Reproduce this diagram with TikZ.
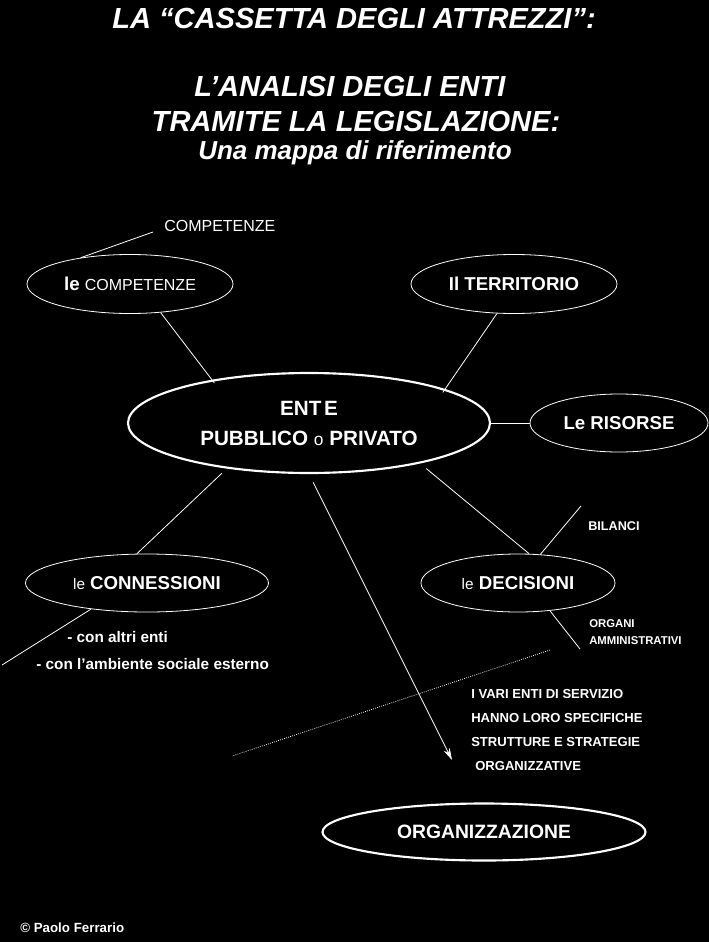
\documentclass[tikz,border=0pt]{standalone}
\usepackage{fontspec}
\setmainfont{Liberation Sans}
\usetikzlibrary{arrows.meta,shapes.geometric}

\begin{document}
\begin{tikzpicture}[
  x=0.75pt, y=-0.75pt,
  bubble/.style={draw=white, ellipse, line width=0.6pt, inner sep=0pt, text=white,
                 font=\fontsize{14}{16}\selectfont\bfseries},
  hub/.style={bubble, line width=1.6pt},
  link/.style={draw=white, line width=0.6pt},
  note/.style={text=white, inner sep=0pt},
  >={Stealth[length=9pt,width=5pt]}
]
  \fill[black] (0,0) rectangle (709,942);
  \useasboundingbox (0,0) rectangle (709,942);

  % title
  \node[note, anchor=base, font=\fontsize{21.8}{24}\selectfont\bfseries\itshape] (t1) at (354,29)
      {LA “CASSETTA DEGLI ATTREZZI”:};
  \node[note, anchor=base, font=\fontsize{21.8}{24}\selectfont\bfseries\itshape] (t2) at (350,97)
      {L’ANALISI DEGLI ENTI};
  \node[note, anchor=base, font=\fontsize{21.8}{24}\selectfont\bfseries\itshape] (t3) at (356,131)
      {TRAMITE LA LEGISLAZIONE:};
  \node[note, anchor=base, font=\fontsize{19.5}{22}\selectfont\bfseries\itshape] (t4) at (355,159)
      {Una mappa di riferimento};

  % map
  \node[hub, minimum width=271.5pt, minimum height=75pt, align=center,
        font=\fontsize{15.5}{22.5}\selectfont\bfseries] (ente) at (309,423)
      {ENT\kern2pt E\\PUBBLICO {\mdseries\fontsize{13}{15}\selectfont o} PRIVATO};
  \node[bubble, minimum width=154.5pt, minimum height=44.25pt] (comp) at (130,284)
      {le {\mdseries\fontsize{12}{14}\selectfont COMPETENZE}};
  \node[bubble, minimum width=154.5pt, minimum height=44.25pt] (terr) at (514,284) {Il TERRITORIO};
  \node[bubble, minimum width=133.5pt, minimum height=43.5pt] (ris) at (619,423) {Le RISORSE};
  \node[bubble, minimum width=182.25pt, minimum height=43.5pt] (conn) at (147,583)
      {{\mdseries\fontsize{11.5}{14}\selectfont le} CONNESSIONI};
  \node[bubble, minimum width=145.5pt, minimum height=43.5pt] (dec) at (518,583)
      {{\mdseries\fontsize{11.5}{14}\selectfont le} DECISIONI};
  \node[hub, minimum width=242.25pt, minimum height=42.75pt,
        font=\fontsize{14.5}{16}\selectfont\bfseries] (org) at (484,832) {ORGANIZZAZIONE};

  \node[note, anchor=base west, font=\fontsize{12}{14}\selectfont] (complbl) at (164,231) {COMPETENZE};
  \node[note, anchor=base west, font=\fontsize{9.5}{11}\selectfont\bfseries] (bil) at (588,530) {BILANCI};
  \node[note, anchor=north west, align=left, font=\fontsize{8.5}{12.75}\selectfont\bfseries] (organi)
      at (589,619) {ORGANI\\AMMINISTRATIVI};
  \node[note, anchor=north west, align=left, font=\fontsize{9.8}{18}\selectfont\bfseries] (servizi)
      at (471,689) {I VARI ENTI DI SERVIZIO\\HANNO LORO SPECIFICHE\\STRUTTURE E STRATEGIE\\\hspace*{3pt}ORGANIZZATIVE};
  \node[note, anchor=base west, font=\fontsize{11.5}{14}\selectfont\bfseries] (altri) at (67,642)
      {- con altri enti};
  \node[note, anchor=base west, font=\fontsize{11.5}{14}\selectfont\bfseries] (ambiente) at (36,669)
      {- con l’ambiente sociale esterno};
  \node[note, anchor=base west, font=\fontsize{10}{12}\selectfont\bfseries] (copy) at (20,932)
      {© Paolo Ferrario};

  \coordinate (compTip) at (153,232);
  \coordinate (bilTip) at (581,506);
  \coordinate (organiTip) at (580,649);
  \coordinate (connTip) at (2,665);
  \coordinate (dotA) at (550,650);
  \coordinate (dotB) at (232,756);
  \coordinate (arrowTip) at (452,760);

  \draw[link, shorten >=-3pt] (comp.-43) -- (ente.156);
  \draw[link, shorten >=-3pt] (terr.-120) -- (ente.14);
  \draw[link] (ente.east) -- (ris.west);
  \draw[link, shorten <=6pt] (ente.-20) -- (dec.69);
  \draw[link, shorten <=5pt] (ente.-151) -- (conn.109);
  \draw[link] (comp.152) -- (compTip);
  \draw[link] (dec.52) -- (bilTip);
  \draw[link] (dec.-41) -- (organiTip);
  \draw[link] (conn.-155) -- (connTip);
  \draw[link, densely dotted] (dotA) -- (dotB);
  \draw[link, ->, shorten <=7pt] (ente.south) -- (arrowTip);
\end{tikzpicture}
\end{document}
